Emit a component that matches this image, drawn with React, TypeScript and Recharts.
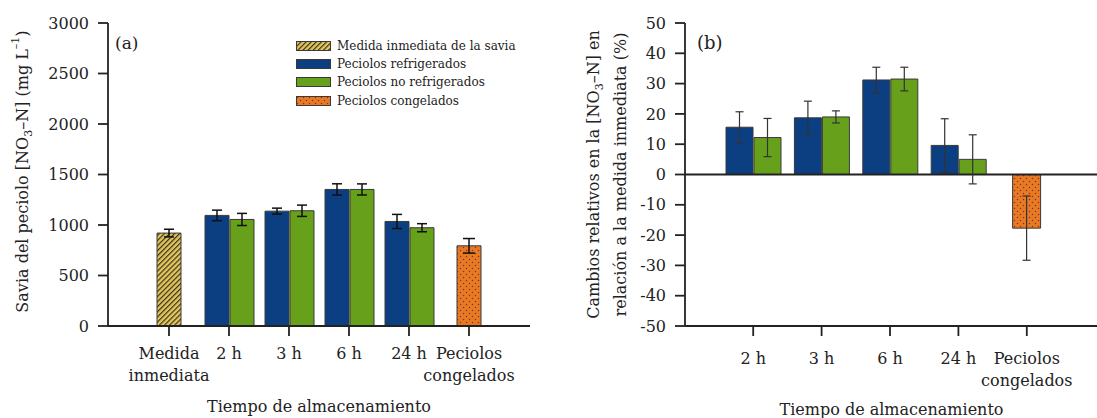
import React from 'react';
import { BarChart, Bar, XAxis, YAxis, ErrorBar, Legend, ReferenceLine } from 'recharts';

const FONT = '"DejaVu Serif", serif';
const INK = '#222';
const BLUE = '#0b3f81';
const GREEN = '#67a11c';
const EDGE = '#3a3a3a';

// (a) savia del peciolo, mg L-1
const categoriasA = ['Medida\ninmediata', '2 h', '3 h', '6 h', '24 h', 'Peciolos\ncongelados'];
const medidaA = [920, null, null, null, null, null];
const medidaErrA = [38, null, null, null, null, null];
const refrigA = [null, 1095, 1137, 1352, 1035, null];
const refrigErrA = [null, 52, 30, 56, 70, null];
const noRefrigA = [null, 1055, 1141, 1352, 973, null];
const noRefrigErrA = [null, 60, 56, 55, 40, null];
const congelA = [null, null, null, null, null, 794];
const congelErrA = [null, null, null, null, null, 72];
const ticksA = [0, 500, 1000, 1500, 2000, 2500, 3000];

// (b) cambio relativo frente a la medida inmediata, %
const categoriasB = ['2 h', '3 h', '6 h', '24 h', 'Peciolos\ncongelados'];
const refrigB = [15.6, 18.7, 31.2, 9.6, null];
const refrigErrB = [5.1, 5.5, 4.2, 8.8, null];
const noRefrigB = [12.2, 19.0, 31.5, 5.0, null];
const noRefrigErrB = [6.3, 2.0, 3.9, 8.1, null];
const congelB = [null, null, null, null, -17.7];
const congelErrB = [null, null, null, null, 10.6];
const ticksB = [-50, -40, -30, -20, -10, 0, 10, 20, 30, 40, 50];

const legendItems = [
  { label: 'Medida inmediata de la savia', fill: 'url(#hatch)' },
  { label: 'Peciolos refrigerados', fill: BLUE },
  { label: 'Peciolos no refrigerados', fill: GREEN },
  { label: 'Peciolos congelados', fill: 'url(#dots)' },
];

const dataA = categoriasA.map((cat, i) => ({
  cat,
  medida: medidaA[i], medidaErr: medidaErrA[i],
  refrig: refrigA[i], refrigErr: refrigErrA[i],
  noRefrig: noRefrigA[i], noRefrigErr: noRefrigErrA[i],
  congel: congelA[i], congelErr: congelErrA[i],
}));

const dataB = categoriasB.map((cat, i) => ({
  cat,
  refrig: refrigB[i], refrigErr: refrigErrB[i],
  noRefrig: noRefrigB[i], noRefrigErr: noRefrigErrB[i],
  congel: congelB[i], congelErr: congelErrB[i],
}));

const tickText = { fill: INK, fontFamily: FONT, fontSize: 16 };
const axisStroke = { stroke: INK, strokeWidth: 1.8 };

const MultiTick = (props: any) => {
  const { x, y, payload, first } = props;
  const lines = String(payload.value).split('\n');
  return (
    <text x={x} y={y} textAnchor="middle" fill={INK} fontFamily={FONT} fontSize={16}>
      {lines.map((l, i) => (
        <tspan key={i} x={x} dy={i === 0 ? first : 22}>{l}</tspan>
      ))}
    </text>
  );
};

const Patterns = () => (
  <svg width={0} height={0} style={{ position: 'absolute' }}>
    <defs>
      <pattern id="hatch" patternUnits="userSpaceOnUse" width={3.6} height={3.6} patternTransform="rotate(45)">
        <rect width={3.6} height={3.6} fill="#e3c65c" />
        <line x1={0.6} y1={0} x2={0.6} y2={3.6} stroke="#3b321c" strokeWidth={1.2} />
      </pattern>
      <pattern id="dots" patternUnits="userSpaceOnUse" width={6} height={6}>
        <rect width={6} height={6} fill="#e87b22" />
        <circle cx={1.5} cy={1.5} r={0.75} fill="#8a2b3a" />
        <circle cx={4.5} cy={4.5} r={0.75} fill="#8a2b3a" />
      </pattern>
    </defs>
  </svg>
);

const LegendBox = () => (
  <div style={{ fontFamily: FONT, fontSize: 12, color: INK }}>
    {legendItems.map((it) => (
      <div key={it.label} style={{ display: 'flex', alignItems: 'center', height: 18.2, whiteSpace: 'nowrap' }}>
        <svg width={35} height={10} style={{ marginRight: 6 }}>
          <rect x={0.5} y={0.5} width={34} height={9} fill={it.fill} stroke={EDGE} strokeWidth={1} />
        </svg>
        {it.label}
      </div>
    ))}
  </div>
);

const PanelA = () => (
  <BarChart width={545} height={418} data={dataA} margin={{ top: 23, right: 15, bottom: 0, left: 0 }} barGap={1}>
    <XAxis
      xAxisId="pair" dataKey="cat" height={92} padding={{ left: 31, right: 31 }}
      axisLine={axisStroke} tickLine={axisStroke} tickSize={10}
      tick={(p: any) => <MultiTick {...p} first={21} />} interval={0}
      label={{
        content: ({ viewBox }: any) => (
          <text x={viewBox.x + viewBox.width / 2} y={viewBox.y + 86} textAnchor="middle" {...tickText}>
            Tiempo de almacenamiento
          </text>
        ),
      }}
    />
    <XAxis xAxisId="medida" dataKey="cat" hide height={0} padding={{ left: 31, right: 31 }} />
    <XAxis xAxisId="congel" dataKey="cat" hide height={0} padding={{ left: 31, right: 31 }} />
    <XAxis
      xAxisId="top" dataKey="cat" orientation="top" height={0} tick={false} tickLine={false}
      axisLine={axisStroke} padding={{ left: 31, right: 31 }}
    />
    <YAxis
      domain={[0, 3000]} ticks={ticksA} width={108} tickSize={10} tickMargin={9}
      axisLine={axisStroke} tickLine={axisStroke} tick={tickText}
      label={{
        content: ({ viewBox }: any) => {
          const cx = 22;
          const cy = viewBox.y + viewBox.height / 2 - 3;
          return (
            <g>
              <text x={cx} y={cy} transform={`rotate(-90, ${cx}, ${cy})`} textAnchor="middle"
                dominantBaseline="central" fill={INK} fontFamily={FONT} fontSize={16}>
                Savia del peciolo [NO<tspan baselineShift="sub" fontSize={11}>3</tspan>–N] (mg L
                <tspan baselineShift="super" fontSize={11}>–1</tspan>)
              </text>
              <text x={viewBox.x + viewBox.width + 7} y={viewBox.y + 26} fill={INK} fontFamily={FONT} fontSize={17}>(a)</text>
            </g>
          );
        },
      }}
    />
    <YAxis yAxisId="right" orientation="right" width={0} domain={[0, 3000]} tick={false} tickLine={false} axisLine={axisStroke} />
    <Legend content={<LegendBox />} layout="vertical" align="center" verticalAlign="middle"
      wrapperStyle={{ left: 296, top: 37, width: 235 }} />
    <Bar xAxisId="medida" dataKey="medida" barSize={24} fill="url(#hatch)" stroke={EDGE} strokeWidth={1} isAnimationActive={false}>
      <ErrorBar dataKey="medidaErr" width={5} stroke="#111" strokeWidth={1.5} />
    </Bar>
    <Bar xAxisId="pair" dataKey="refrig" barSize={24} fill={BLUE} stroke={EDGE} strokeWidth={1} isAnimationActive={false}>
      <ErrorBar dataKey="refrigErr" width={5} stroke="#111" strokeWidth={1.5} />
    </Bar>
    <Bar xAxisId="pair" dataKey="noRefrig" barSize={24} fill={GREEN} stroke={EDGE} strokeWidth={1} isAnimationActive={false}>
      <ErrorBar dataKey="noRefrigErr" width={5} stroke="#111" strokeWidth={1.5} />
    </Bar>
    <Bar xAxisId="congel" dataKey="congel" barSize={24} fill="url(#dots)" stroke={EDGE} strokeWidth={1} isAnimationActive={false}>
      <ErrorBar dataKey="congelErr" width={6} stroke="#111" strokeWidth={1.5} />
    </Bar>
  </BarChart>
);

const PanelB = () => (
  <BarChart width={540} height={418} data={dataB} margin={{ top: 23, right: 2, bottom: 0, left: 0 }} barGap={1}>
    <XAxis
      xAxisId="pair" dataKey="cat" height={92} padding={{ left: 34, right: 37 }}
      axisLine={axisStroke} tickLine={axisStroke} tickSize={10}
      tick={(p: any) => <MultiTick {...p} first={26} />} interval={0}
      label={{
        content: ({ viewBox }: any) => (
          <text x={viewBox.x + viewBox.width / 2} y={viewBox.y + 89} textAnchor="middle" {...tickText}>
            Tiempo de almacenamiento
          </text>
        ),
      }}
    />
    <XAxis xAxisId="congel" dataKey="cat" hide height={0} padding={{ left: 34, right: 37 }} />
    <XAxis
      xAxisId="top" dataKey="cat" orientation="top" height={0} tick={false} tickLine={false}
      axisLine={axisStroke} padding={{ left: 34, right: 37 }}
    />
    <YAxis
      domain={[-50, 50]} ticks={ticksB} width={125} tickSize={10} tickMargin={9}
      axisLine={axisStroke} tickLine={axisStroke} tick={tickText}
      label={{
        content: ({ viewBox }: any) => {
          const cy = viewBox.y + viewBox.height / 2;
          const x1 = 33;
          const x2 = 60;
          return (
            <g fill={INK} fontFamily={FONT} fontSize={16}>
              <text x={x1} y={cy} transform={`rotate(-90, ${x1}, ${cy})`} textAnchor="middle" dominantBaseline="central">
                Cambios relativos en la [NO<tspan baselineShift="sub" fontSize={11}>3</tspan>–N] en
              </text>
              <text x={x2} y={cy} transform={`rotate(-90, ${x2}, ${cy})`} textAnchor="middle" dominantBaseline="central">
                relación a la medida inmediata (%)
              </text>
              <text x={viewBox.x + viewBox.width + 12} y={viewBox.y + 26} fontSize={18}>(b)</text>
            </g>
          );
        },
      }}
    />
    <ReferenceLine xAxisId="pair" y={0} stroke={INK} strokeWidth={1.8} />
    <Bar xAxisId="pair" dataKey="refrig" barSize={27} fill={BLUE} stroke={EDGE} strokeWidth={1} isAnimationActive={false}>
      <ErrorBar dataKey="refrigErr" width={4} stroke="#333" strokeWidth={1.2} />
    </Bar>
    <Bar xAxisId="pair" dataKey="noRefrig" barSize={27} fill={GREEN} stroke={EDGE} strokeWidth={1} isAnimationActive={false}>
      <ErrorBar dataKey="noRefrigErr" width={4} stroke="#333" strokeWidth={1.2} />
    </Bar>
    <Bar xAxisId="congel" dataKey="congel" barSize={28} fill="url(#dots)" stroke={EDGE} strokeWidth={1} isAnimationActive={false}>
      <ErrorBar dataKey="congelErr" width={4} stroke="#333" strokeWidth={1.2} />
    </Bar>
  </BarChart>
);

export default function App() {
  return (
    <div style={{ position: 'absolute', left: 0, top: 0, width: 1097, height: 418, overflow: 'hidden', background: '#fff' }}>
      <Patterns />
      <div style={{ position: 'absolute', left: 0, top: 0 }}>
        <PanelA />
      </div>
      <div style={{ position: 'absolute', left: 560, top: 0 }}>
        <PanelB />
      </div>
    </div>
  );
}
